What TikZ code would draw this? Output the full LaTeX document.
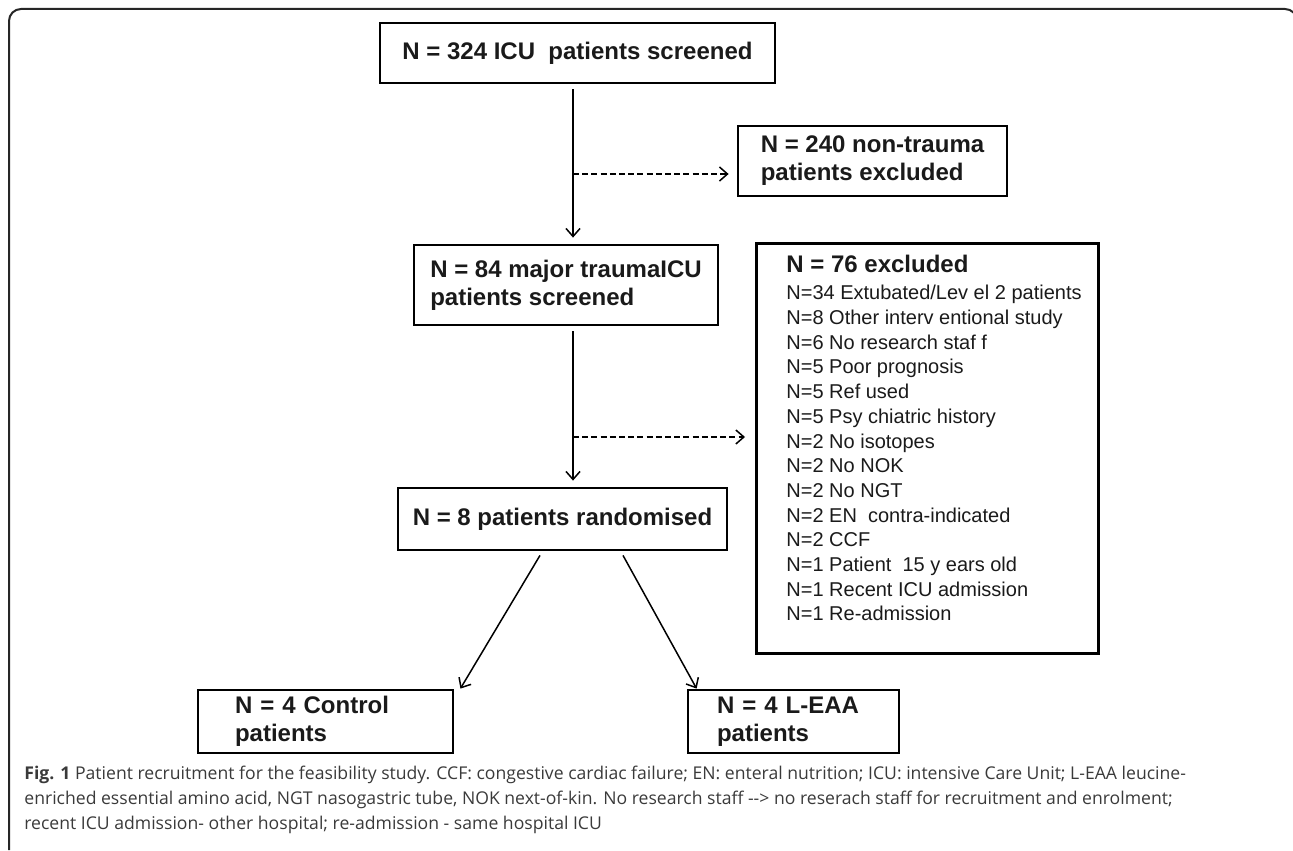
\documentclass[tikz,border=0pt]{standalone}
\usepackage{fontspec}
\setmainfont{Liberation Sans}
\newfontfamily\capfont{Open Sans}
\usetikzlibrary{arrows.meta}
\definecolor{boxtext}{HTML}{1A1A1A}
\definecolor{captext}{HTML}{3A3A3A}
\begin{document}
\begin{tikzpicture}[x=0.5pt,y=-0.5pt]
\tikzstyle{flowbox}=[draw, line width=1.4pt, inner sep=0pt, text=boxtext, font=\fontsize{12pt}{14pt}\selectfont\bfseries]
\tikzstyle{flowarrow}=[line width=0.75pt, -{Straight Barb[length=4pt,width=7pt]}]
\tikzstyle{dasharrow}=[flowarrow, dash pattern=on 3pt off 1.6pt]
\tikzstyle{captionline}=[anchor=base west, inner sep=0pt, text=captext, font=\capfont\fontsize{8.8pt}{10pt}\selectfont]
\useasboundingbox (0,0) rectangle (1293,850);
\draw[line width=1pt, rounded corners=6pt, color=black!85] (9,850) -- (9,9) -- (1297,9) -- (1297,850);
\coordinate (spine) at (573,0);
\node[flowbox, minimum width=197.5pt, minimum height=30pt] (n324) at (577.5,53) {N = 324 ICU\ \ patients screened};
\node[flowbox, minimum width=134.5pt, minimum height=35pt, align=left] (n240) at (872.5,161) {N = 240 non-trauma\\patients excluded};
\node[flowbox, minimum width=152pt, minimum height=40pt, align=left] (n84) at (566,285) {N = 84 major traumaICU\\patients screened};
\node[flowbox, anchor=north west, font=\fontsize{10pt}{12.35pt}\selectfont] (ex) at (755,242) {\hspace*{15pt}\parbox[c][205pt][t]{156pt}{\vspace*{6pt}{\fontsize{12pt}{14pt}\selectfont\bfseries N = 76 excluded\par}\vspace{1.2pt}
N=34 Extubated/Lev el 2 patients\\
N=8 Other interv entional study\\
N=6 No research staf f\\
N=5 Poor prognosis\\
N=5 Ref used\\
N=5 Psy chiatric history\\
N=2 No isotopes\\
N=2 No NOK\\
N=2 No NGT\\
N=2 EN\ \ contra-indicated\\
N=2 CCF\\
N=1 Patient\ \ 15 y ears old\\
N=1 Recent ICU admission\\
N=1 Re-admission}};
\node[flowbox, minimum width=164.5pt, minimum height=31pt] (n8) at (562.5,519) {N = 8 patients randomised};
\node[flowbox, minimum width=127.5pt, minimum height=31.5pt, text width=90.5pt, align=left] (ctrl) at (325.5,721.5) {N = 4 Control\\patients};
\node[flowbox, minimum width=105.5pt, minimum height=31.5pt, text width=76.5pt, align=left] (leaa) at (793.5,721.5) {N = 4 L-EAA\\patients};
\coordinate (d1) at (573,174);
\coordinate (d2) at (573,437);
\draw[flowarrow, shorten <=2.5pt, shorten >=3pt] (n324.south -| spine) -- (n84.north -| spine);
\draw[dasharrow, shorten >=4pt] (d1) -- (d1 -| n240.west);
\draw[flowarrow, shorten <=2.5pt, shorten >=3pt] (n84.south -| spine) -- (n8.north -| spine);
\draw[dasharrow, shorten >=5pt] (d2) -- (d2 -| ex.west);
\draw[flowarrow] ([xshift=-11.25pt,yshift=-2pt]n8.south) -- ([xshift=3pt]ctrl.north east);
\draw[flowarrow] ([xshift=30.25pt,yshift=-2pt]n8.south) -- ([xshift=5pt]leaa.north west);
\node[captionline] (cap1) at (24,779) {{\bfseries Fig. 1} Patient recruitment for the feasibility study. CCF: congestive cardiac failure; EN: enteral nutrition; ICU: intensive Care Unit; L-EAA leucine-};
\node[captionline] (cap2) at (24,804) {enriched essential amino acid, NGT nasogastric tube, NOK next-of-kin. No research staff -{}-> no reserach staff for recruitment and enrolment;};
\node[captionline] (cap3) at (24,829) {recent ICU admission- other hospital; re-admission - same hospital ICU};
\end{tikzpicture}
\end{document}
